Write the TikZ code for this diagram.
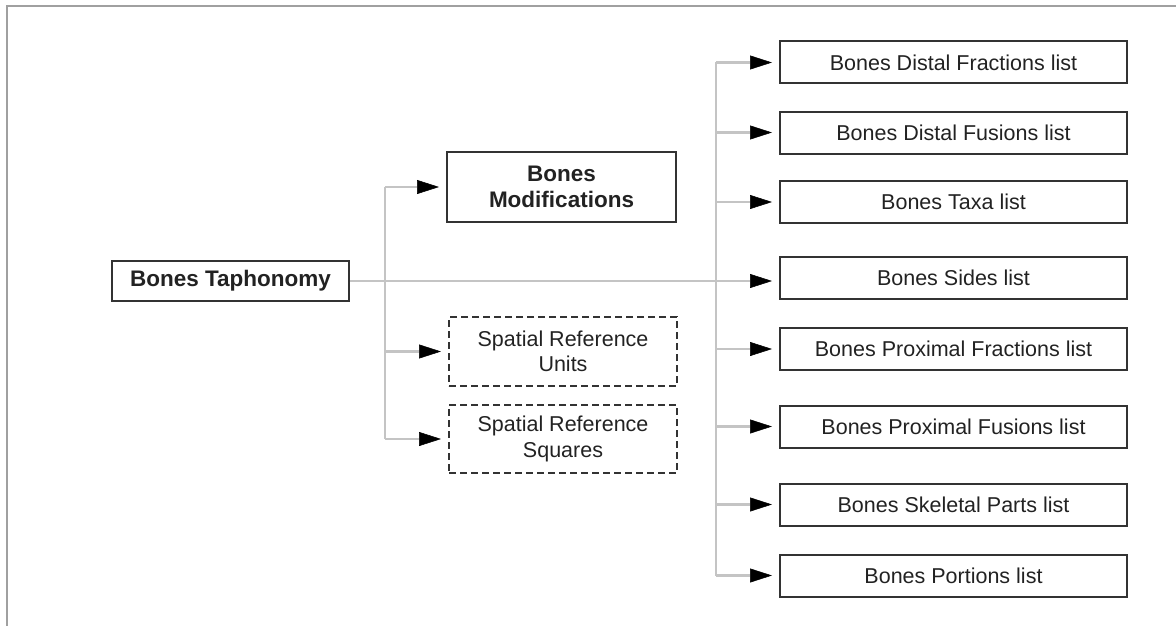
\documentclass[tikz,border=0pt]{standalone}
\usepackage{fontspec}
\setmainfont{Liberation Sans}
\usetikzlibrary{arrows.meta}
\definecolor{boxline}{HTML}{333333}
\definecolor{textdark}{HTML}{222222}
\definecolor{linkgray}{HTML}{C4C4C4}
\definecolor{framegray}{HTML}{A0A0A0}
\begin{document}
\begin{tikzpicture}[x=1pt,y=-1pt,
  box/.style={draw=boxline, line width=2pt, text=textdark, inner sep=0pt,
    align=center, font=\fontsize{21.5}{25.5}\selectfont},
  boldbox/.style={box, font=\fontsize{22.5}{26}\selectfont\bfseries},
  dashbox/.style={box, dash pattern=on 7pt off 4pt},
  listbox/.style={box, minimum width=347pt, minimum height=42pt},
  link/.style={draw=linkgray, line width=2.2pt},
  arr/.style={link, -{Triangle[length=22pt,width=14pt,color=black,line width=0.5pt]}, shorten >=7pt}
]
\useasboundingbox (0,0) rectangle (1176,626);
% page frame (top and left edges)
\draw[framegray, line width=1.5pt] (1176,6) -- (7,6) -- (7,626);

% root and second level
\node[boldbox, minimum width=237pt, minimum height=40pt] (tap) at (230.5,281) {Bones Taphonomy};
\node[boldbox, minimum width=229pt, minimum height=70pt] (mod) at (561.5,187) {Bones\\Modifications};
\node[dashbox, minimum width=228pt, minimum height=69pt] (sru) at (563,351.5) {Spatial Reference\\Units};
\node[dashbox, minimum width=228pt, minimum height=68pt] (srs) at (563,439) {Spatial Reference\\Squares};

% list tables
\node[listbox] (dfr) at (953.5,62.5) {Bones Distal Fractions list};
\node[listbox] (dfu) at (953.5,132.5) {Bones Distal Fusions list};
\node[listbox] (tax) at (953.5,202) {Bones Taxa list};
\node[listbox] (sid) at (953.5,278) {Bones Sides list};
\node[listbox] (pfr) at (953.5,349) {Bones Proximal Fractions list};
\node[listbox] (pfu) at (953.5,426.5) {Bones Proximal Fusions list};
\node[listbox] (ske) at (953.5,504.5) {Bones Skeletal Parts list};
\node[listbox] (por) at (953.5,575.5) {Bones Portions list};

% trunk positions
\coordinate (lt) at (385,0);
\coordinate (rt) at (716,0);

% left trunk
\draw[link] (lt |- mod.west) -- (lt |- srs.west);
\draw[arr] (lt |- mod.west) -- (mod.west);
\draw[arr] (lt |- sru.west) -- (sru.west);
\draw[arr] (lt |- srs.west) -- (srs.west);

% right trunk
\draw[link] (rt |- dfr.west) -- (rt |- por.west);
\foreach \n in {dfr,dfu,tax,pfr,pfu,ske,por}
  \draw[arr] (rt |- \n.west) -- (\n.west);

% main line from the root to the sides list
\draw[arr] (tap.east) -- (tap.east -| sid.west);
\end{tikzpicture}
\end{document}
